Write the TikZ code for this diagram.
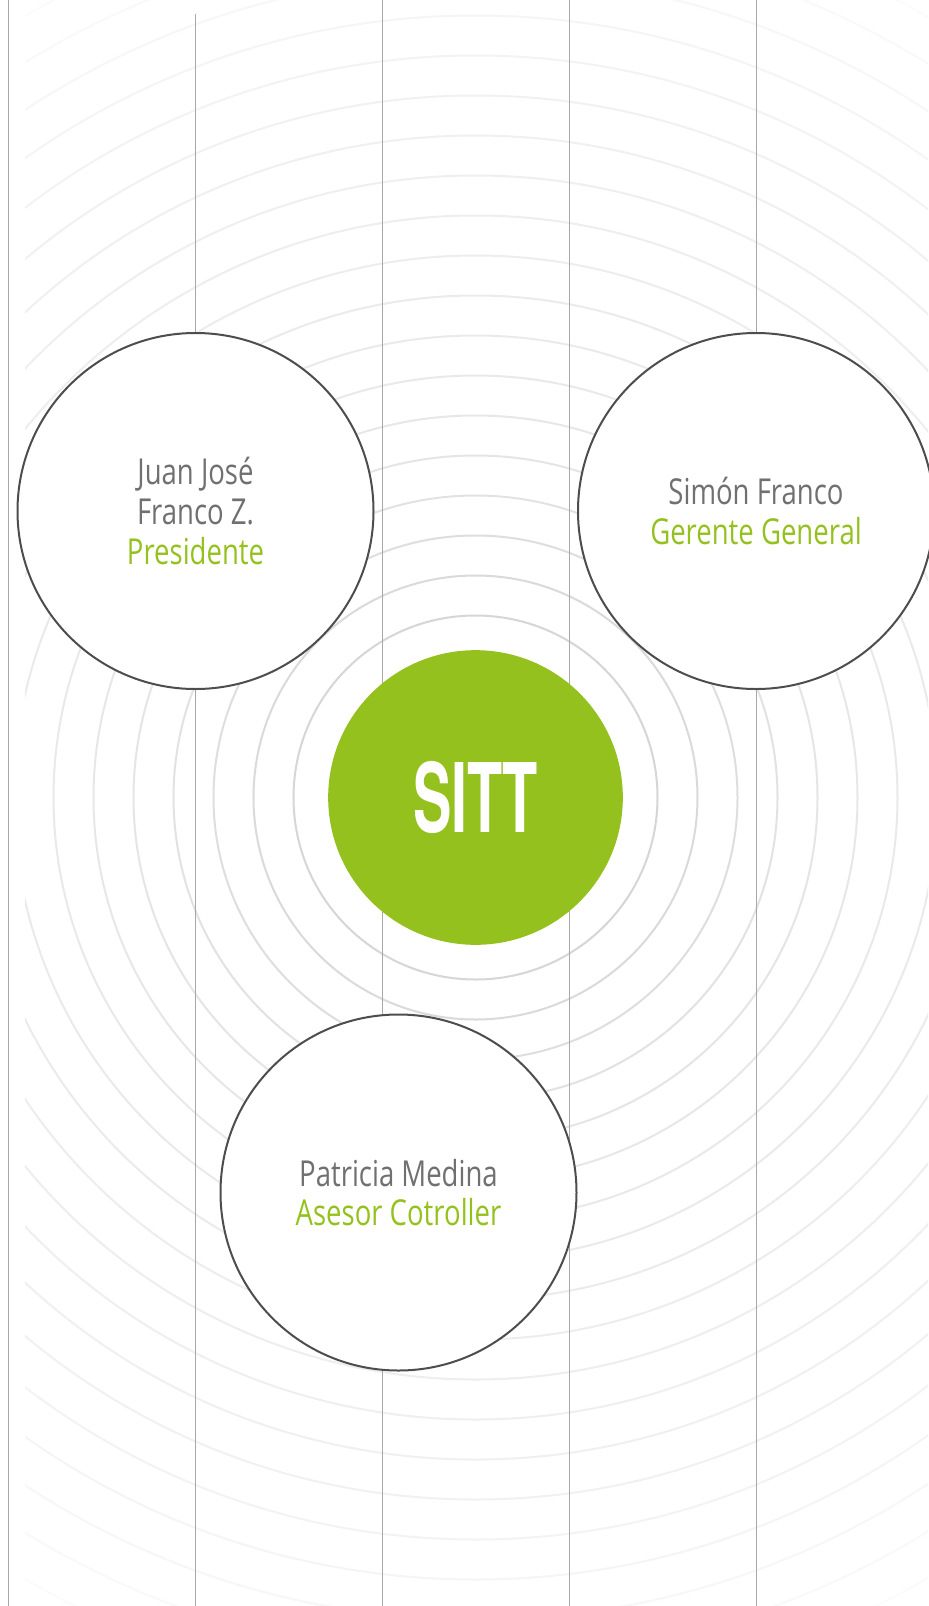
\documentclass[tikz,border=0pt]{standalone}
\usepackage{fontspec}
\setmainfont{Open Sans}[FakeStretch=0.77]
\newfontfamily\sittfont{TeX Gyre Heros}[FakeStretch=0.6]
\definecolor{sittgreen}{RGB}{149,193,31}
\definecolor{namegray}{RGB}{112,112,112}
\definecolor{rimgray}{RGB}{77,77,77}
\tikzset{every picture/.style={line width=0.75pt}}

\begin{document}
\begin{tikzpicture}[x=0.75pt,y=0.75pt,yscale=-1,xscale=1,
  person/.style={circle, draw=rimgray, line width=1.5pt, fill=white, minimum size=267pt, inner sep=0pt, align=center, text=namegray, font=\fontsize{26.8}{29.7}\selectfont},
  hub/.style={circle, fill=sittgreen, minimum size=221pt, inner sep=0pt, text=white, font=\sittfont\bfseries\fontsize{72}{72}\selectfont},
  guide/.style={color={rgb, 255:red, 168; green, 168; blue, 168 }}]
\useasboundingbox (0,0) rectangle (928,1606);
\fill [white] (0,0) rectangle (928,1606);

\coordinate (core) at (475.5,797.5);

%Rings round the hub
\begin{scope}
\clip (25,0) rectangle (928,1606);
\draw [color={rgb, 255:red, 251; green, 251; blue, 251 }, line width=1.5pt] (core) circle (902);
\draw [color={rgb, 255:red, 249; green, 249; blue, 249 }, line width=1.5pt] (core) circle (862);
\draw [color={rgb, 255:red, 247; green, 247; blue, 247 }, line width=1.5pt] (core) circle (822);
\draw [color={rgb, 255:red, 245; green, 245; blue, 245 }, line width=1.5pt] (core) circle (782);
\draw [color={rgb, 255:red, 243; green, 243; blue, 243 }, line width=1.5pt] (core) circle (742);
\draw [color={rgb, 255:red, 241; green, 241; blue, 241 }, line width=1.5pt] (core) circle (702);
\draw [color={rgb, 255:red, 240; green, 240; blue, 240 }, line width=1.5pt] (core) circle (662);
\draw [color={rgb, 255:red, 239; green, 239; blue, 239 }, line width=1.5pt] (core) circle (622);
\draw [color={rgb, 255:red, 238; green, 238; blue, 238 }, line width=1.5pt] (core) circle (582);
\draw [color={rgb, 255:red, 237; green, 237; blue, 237 }, line width=1.5pt] (core) circle (542);
\draw [color={rgb, 255:red, 235; green, 235; blue, 235 }, line width=1.5pt] (core) circle (502);
\draw [color={rgb, 255:red, 234; green, 234; blue, 234 }, line width=1.5pt] (core) circle (462);
\draw [color={rgb, 255:red, 233; green, 233; blue, 233 }, line width=1.5pt] (core) circle (422);
\draw [color={rgb, 255:red, 231; green, 231; blue, 231 }, line width=1.5pt] (core) circle (382);
\draw [color={rgb, 255:red, 229; green, 229; blue, 229 }, line width=1.5pt] (core) circle (342);
\draw [color={rgb, 255:red, 226; green, 226; blue, 226 }, line width=1.5pt] (core) circle (302);
\draw [color={rgb, 255:red, 222; green, 222; blue, 222 }, line width=1.5pt] (core) circle (262);
\draw [color={rgb, 255:red, 218; green, 218; blue, 218 }, line width=1.5pt] (core) circle (222);
\draw [color={rgb, 255:red, 214; green, 214; blue, 214 }, line width=1.5pt] (core) circle (182);
\end{scope}

%Straight Lines
\draw [guide] (8,0) -- (8,1606) ;
%Straight Lines
\draw [guide] (195.5,14) -- (195.5,1606) ;
%Straight Lines
\draw [guide] (382.5,0) -- (382.5,1606) ;
%Straight Lines
\draw [guide] (569.5,0) -- (569.5,1606) ;
%Straight Lines
\draw [guide] (756,0) -- (756,1606) ;

% Hub
\node [hub] (sitt) at (core) {SITT};

% People
\node [person] (presidente) at (195.5,511) {Juan José\\Franco Z.\\\textcolor{sittgreen}{Presidente}};
\node [person] (gerente) at (756,511) {Simón Franco\\\textcolor{sittgreen}{Gerente General}};
\node [person] (asesor) at (398.5,1192.5) {Patricia Medina\\\textcolor{sittgreen}{Asesor Cotroller}};

\end{tikzpicture}
\end{document}
